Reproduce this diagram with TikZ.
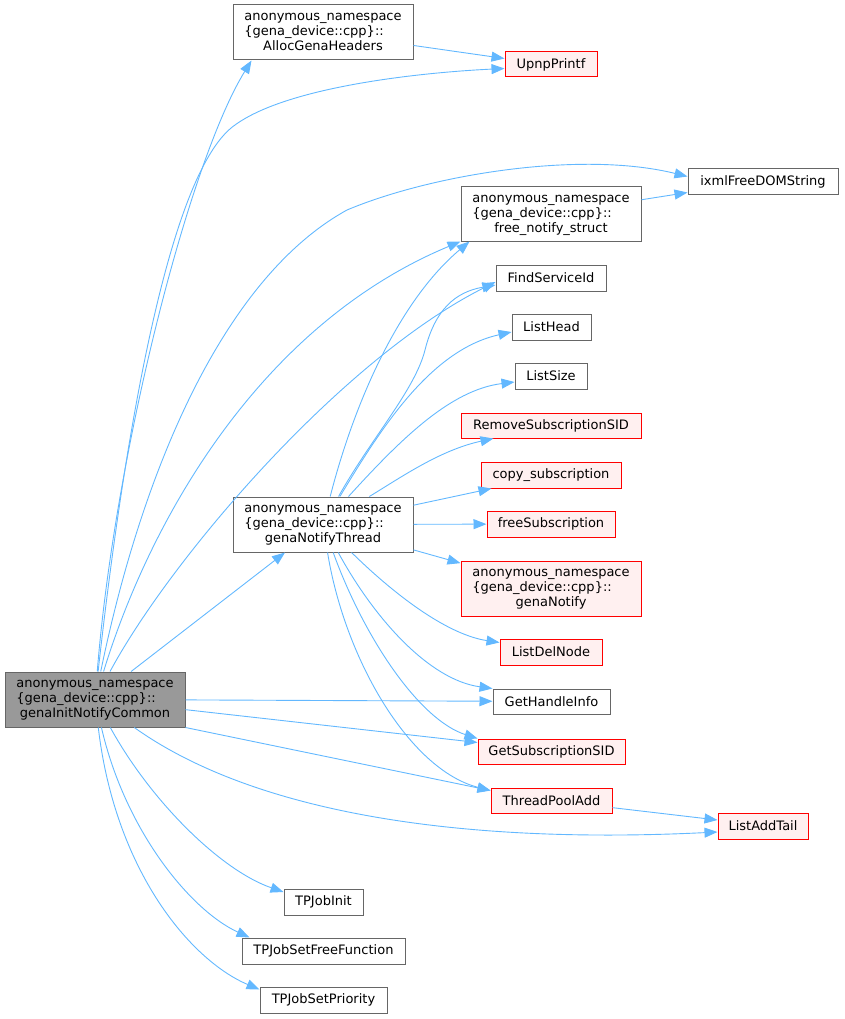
\documentclass[tikz,border=0pt]{standalone}
\usepackage{fontspec}
\setmainfont{DejaVu Sans}
\usetikzlibrary{arrows.meta}

\definecolor{edgeblue}{HTML}{63B8FF}
\definecolor{boxgray}{HTML}{666666}
\definecolor{rootgray}{HTML}{999999}
\definecolor{redfill}{HTML}{FFF0F0}

% three line label of the functions in the anonymous namespace
\newcommand{\nsfn}[1]{\begin{tabular}{@{}l@{}}anonymous\_namespace\\\{gena\_device::cpp\}::\\\multicolumn{1}{@{}c@{}}{#1}\end{tabular}}

\tikzset{
	fn/.style={draw=boxgray, fill=white, line width=1pt, inner sep=0pt, minimum height=26pt, font=\fontsize{13}{15}\selectfont},
	fnred/.style={fn, draw=red, fill=redfill},
	fnroot/.style={fn, fill=rootgray},
	nsbox/.style={minimum width=180pt, minimum height=55pt},
	call/.style={draw=edgeblue, line width=0.9pt, -{Triangle[length=13pt,width=10pt]}}
}

\begin{document}
\begin{tikzpicture}[x=1pt,y=-1pt]
	
	\useasboundingbox (0,0) rectangle (844,1019);
	
	% columns at x = 95, 323, 551, 763
	\node[fnroot, nsbox] (root) at (95,699.5) {\nsfn{genaInitNotifyCommon}};
	
	\node[fn, nsbox] (alloc) at (323,32.5) {\nsfn{AllocGenaHeaders}};
	\node[fn, nsbox] (thread) at (323,524.5) {\nsfn{genaNotifyThread}};
	\node[fn, minimum width=79pt] (tpinit) at (323.5,902) {TPJobInit};
	\node[fn, minimum width=163pt] (tpfree) at (323.5,951) {TPJobSetFreeFunction};
	\node[fn, minimum width=127pt] (tpprio) at (323.5,1000) {TPJobSetPriority};
	
	\node[fnred, minimum width=92pt, minimum height=25pt] (upnp) at (551,64.5) {UpnpPrintf};
	\node[fn, nsbox, minimum height=54pt] (freens) at (551,214) {\nsfn{free\_notify\_struct}};
	\node[fn, minimum width=110pt] (findsid) at (551,278) {FindServiceId};
	\node[fn, minimum width=79pt] (listhead) at (551.5,327) {ListHead};
	\node[fn, minimum width=72pt] (listsize) at (551,376) {ListSize};
	\node[fnred, minimum width=180pt, minimum height=25pt] (remsub) at (551,425.5) {RemoveSubscriptionSID};
	\node[fnred, minimum width=140pt] (copysub) at (551,475) {copy\_subscription};
	\node[fnred, minimum width=128pt] (freesub) at (551,524) {freeSubscription};
	\node[fnred, nsbox] (notify) at (551,588.5) {\nsfn{genaNotify}};
	\node[fnred, minimum width=102pt] (listdel) at (551,652) {ListDelNode};
	\node[fn, minimum width=117pt, minimum height=25pt] (gethandle) at (551.5,701.5) {GetHandleInfo};
	\node[fnred, minimum width=147pt, minimum height=25pt] (getsub) at (551.5,751.5) {GetSubscriptionSID};
	\node[fnred, minimum width=121pt, minimum height=25pt] (tpadd) at (551.5,800.5) {ThreadPoolAdd};
	
	\node[fn, minimum width=150pt, minimum height=25pt] (ixml) at (763,181.5) {ixmlFreeDOMString};
	\node[fnred, minimum width=90pt] (listadd) at (763,826) {ListAddTail};
	
	% calls of genaInitNotifyCommon
	\draw[call] (root) .. controls (115,450) and (190,160) .. ([xshift=19pt]alloc.south west);
	\draw[call] (root) .. controls (125,430) and (170,170) .. (235,125) .. controls (290,85) and (430,72) .. ([yshift=-4pt]upnp.west);
	\draw[call] (root) .. controls (140,480) and (220,280) .. (347,210) .. controls (430,175) and (580,150) .. ([yshift=5pt]ixml.west);
	\draw[call] (root) .. controls (150,520) and (260,325) .. (freens.south west);
	\draw[call] (root) .. controls (170,560) and (340,360) .. ([yshift=-4pt]findsid.west);
	\draw[call] (root) -- ([xshift=-38pt]thread.south);
	\draw[call] (root) -- (gethandle);
	\draw[call] (root) -- ([yshift=-4pt]getsub.north west);
	\draw[call] (root.south east) -- ([yshift=-3pt]tpadd.north west);
	\draw[call] (root) .. controls (250,810) and (450,845) .. ([yshift=-6pt]listadd.west);
	\draw[call] (root) .. controls (150,800) and (220,870) .. ([yshift=10pt]tpinit.west);
	\draw[call] (root) .. controls (125,830) and (190,910) .. ([xshift=8pt]tpfree.north west);
	\draw[call] (root) .. controls (115,870) and (190,960) .. ([yshift=-3pt]tpprio.north west);
	
	% calls of genaNotifyThread
	\draw[call] (thread) .. controls (355,400) and (400,300) .. ([xshift=9pt]freens.south west);
	\draw[call] (thread) .. controls (370,440) and (415,390) .. (425,350) .. controls (435,310) and (455,292) .. ([yshift=-7pt]findsid.west);
	\draw[call] (thread) .. controls (380,430) and (430,350) .. ([yshift=-5pt]listhead.west);
	\draw[call] (thread) .. controls (400,440) and (450,390) .. ([yshift=-6pt]listsize.west);
	\draw[call] (thread) .. controls (400,478) and (440,450) .. ([xshift=33pt]remsub.south west);
	\draw[call] (thread) -- ([xshift=11pt]copysub.south west);
	\draw[call] (thread) -- (freesub);
	\draw[call] (thread) -- (notify);
	\draw[call] (thread) .. controls (400,600) and (450,635) .. ([yshift=-4pt]listdel.north west);
	\draw[call] (thread) .. controls (375,620) and (430,680) .. (gethandle.north west);
	\draw[call] (thread) .. controls (365,640) and (420,720) .. (getsub.north west);
	\draw[call] (thread) .. controls (345,660) and (410,770) .. ([yshift=-3pt]tpadd.north west);
	
	% the rest
	\draw[call] (alloc) -- ([yshift=6pt]upnp.west);
	\draw[call] (freens) -- ([yshift=-11pt]ixml.west);
	\draw[call] (tpadd) -- ([yshift=6pt]listadd.west);
	
\end{tikzpicture}
\end{document}
